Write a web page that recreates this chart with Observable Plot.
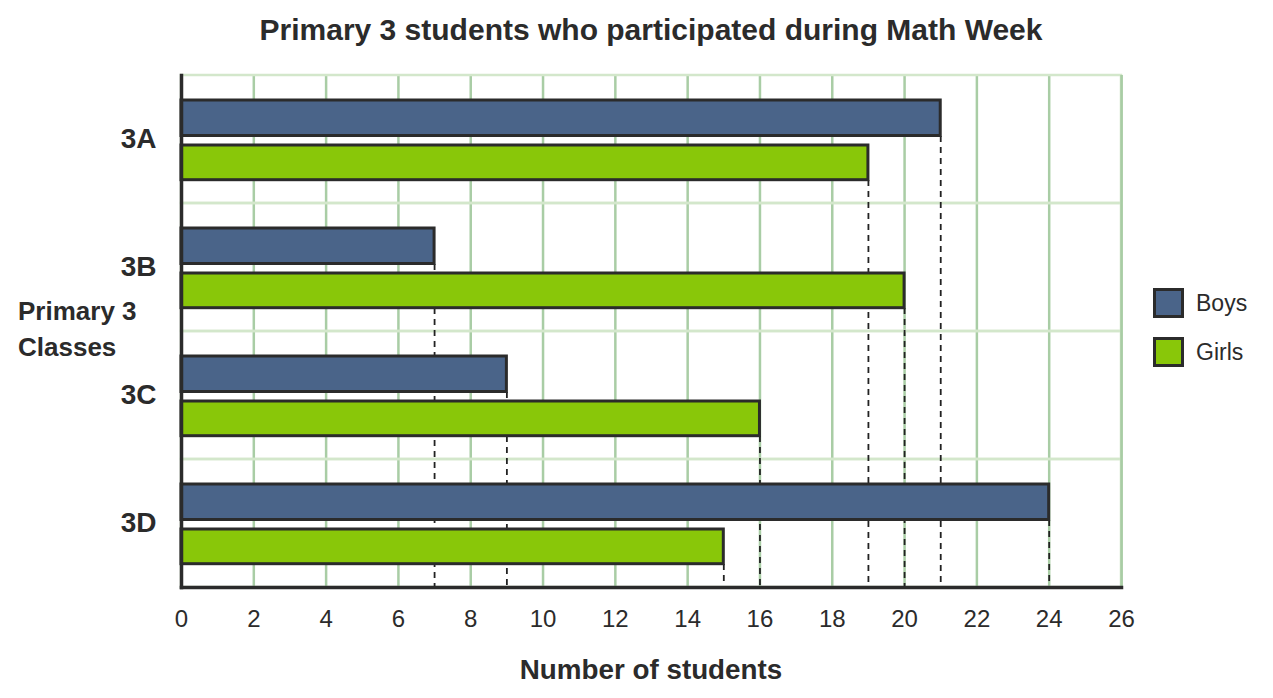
<!DOCTYPE html>
<html>
<head>
<meta charset="utf-8">
<script src="https://cdn.jsdelivr.net/npm/d3@7"></script>
<script src="https://cdn.jsdelivr.net/npm/@observablehq/plot@0.6"></script>
<style>
  html, body { margin: 0; padding: 0; background: #fff; }
  body { font-family: "Liberation Sans", Arial, sans-serif; color: #2b2b2b; width: 1273px; height: 698px; position: relative; overflow: hidden; }
  #title { height: 60px; line-height: 60px; text-align: center; font-weight: bold; font-size: 30px; padding-left: 29px; }
  #xlabel { height: 58px; line-height: 60px; text-align: center; font-weight: bold; font-size: 27.8px; padding-left: 29px; }
  #ylabel { position: absolute; left: 18px; top: 293px; font-weight: bold; font-size: 26px; line-height: 36px; }
  #legend { position: absolute; left: 1153px; top: 288px; font-size: 23px; }
  .item { display: flex; align-items: center; height: 30px; margin-bottom: 19px; }
  .sw { width: 31px; height: 30px; box-sizing: border-box; border: 3px solid #2b2b2b; margin-right: 12px; }
  svg { display: block; }
</style>
</head>
<body>
<div id="title">Primary 3 students who participated during Math Week</div>
<div id="chart"></div>
<div id="xlabel">Number of students</div>
<div id="ylabel">Primary 3<br>Classes</div>
<div id="legend"></div>
<script>
const classes = ["3A", "3B", "3C", "3D"];
const boys = [21, 7, 9, 24];
const girls = [19, 20, 16, 15];
const xTicks = [0, 2, 4, 6, 8, 10, 12, 14, 16, 18, 20, 22, 24, 26];
const series = ["Boys", "Girls"];
const colors = ["#4a6489", "#89c709"];

const rows = classes.map((c, i) => ({cls: c, boys: boys[i], girls: girls[i]}));
const last = classes[classes.length - 1];
const ink = "#2b2b2b";

const chart = Plot.plot({
  width: 1273,
  height: 580,
  marginTop: 15,
  marginBottom: 53,
  marginLeft: 181,
  marginRight: 152,
  style: {fontFamily: "'Liberation Sans', Arial, sans-serif", color: ink, background: "#fff"},
  x: {domain: [0, 26], ticks: xTicks},
  y: {domain: classes, padding: 0},
  marks: [
    // vertical grid
    Plot.ruleX(xTicks.filter(d => d > 0), {stroke: "#a9cda5", strokeWidth: 2.5}),
    // horizontal band boundaries
    Plot.barX(classes, {y: d => d, x1: 0, x2: 26, fill: "none", stroke: "#d3e7cb", strokeWidth: 2.5}),
    Plot.ruleX([26], {stroke: "#a9cda5", strokeWidth: 2.5}),
    // dashed drop lines
    Plot.ruleX(rows, {x: "boys", y1: "cls", y2: () => last, insetTop: 61, stroke: "#222", strokeWidth: 1.8, strokeDasharray: "6,5"}),
    Plot.ruleX(rows, {x: "girls", y1: "cls", y2: () => last, insetTop: 105, stroke: "#222", strokeWidth: 1.8, strokeDasharray: "6,5"}),
    // bars
    Plot.barX(rows, {y: "cls", x: "boys", fill: colors[0], stroke: ink, strokeWidth: 3, insetTop: 25, insetBottom: 67.5}),
    Plot.barX(rows, {y: "cls", x: "girls", fill: colors[1], stroke: ink, strokeWidth: 3, insetTop: 70, insetBottom: 23.3}),
    // axes
    Plot.axisX({ticks: xTicks, tickSize: 0, tickPadding: 22, fontSize: 24, fill: ink, label: null}),
    Plot.axisY({tickSize: 0, tickPadding: 25, fontSize: 28, fontWeight: "bold", fill: ink, label: null}),
    Plot.frame({anchor: "bottom", stroke: ink, strokeWidth: 3.5}),
    Plot.frame({anchor: "left", stroke: ink, strokeWidth: 3.5})
  ]
});
document.getElementById("chart").appendChild(chart);

const legend = document.getElementById("legend");
series.forEach((s, i) => {
  const item = document.createElement("div");
  item.className = "item";
  const sw = document.createElement("div");
  sw.className = "sw";
  sw.style.background = colors[i];
  const label = document.createElement("span");
  label.textContent = s;
  item.appendChild(sw);
  item.appendChild(label);
  legend.appendChild(item);
});
</script>
</body>
</html>
